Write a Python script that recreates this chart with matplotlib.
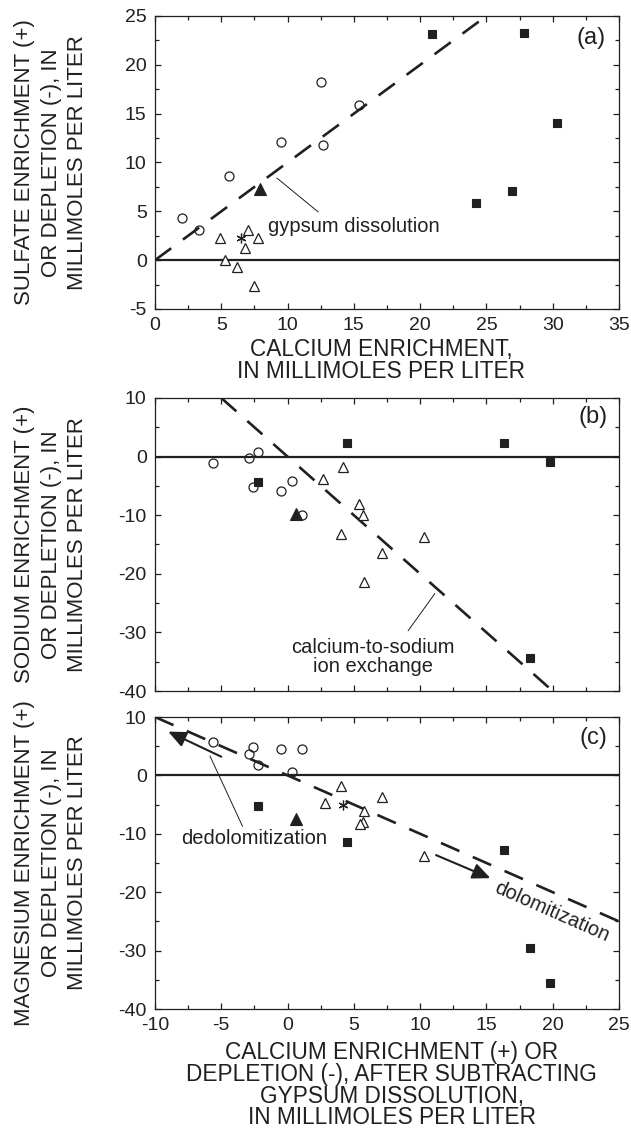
import numpy as np
import matplotlib
matplotlib.use('Agg')
import matplotlib.pyplot as plt
from matplotlib.ticker import MultipleLocator

plt.rcParams['font.family'] = ['Liberation Sans', 'DejaVu Sans']
plt.rcParams['lines.scale_dashes'] = False
plt.rcParams['axes.unicode_minus'] = False

INK = '#231f20'

# (a) sulfate vs calcium enrichment, mmol/L
a_circ_x = [2.0, 3.3, 5.6, 9.5, 12.5, 12.7, 15.4]
a_circ_y = [4.3, 3.1, 8.6, 12.1, 18.2, 11.8, 15.9]
a_sq_x = [20.9, 27.8, 30.3, 24.2, 26.9]
a_sq_y = [23.2, 23.3, 14.0, 5.9, 7.1]
a_tri_x = [4.9, 7.0, 7.8, 6.8, 5.3, 6.2, 7.5]
a_tri_y = [2.3, 3.1, 2.3, 1.2, 0.0, -0.7, -2.6]
a_ftri_x = [7.9]
a_ftri_y = [7.3]
a_star_x = [6.5]
a_star_y = [2.3]

# (b) sodium vs calcium (after gypsum correction)
b_circ_x = [-5.6, -2.9, -2.2, -2.6, -0.5, 0.3, 1.1]
b_circ_y = [-1.1, -0.3, 0.8, -5.2, -5.9, -4.2, -9.9]
b_sq_x = [-2.2, 4.5, 16.3, 19.8, 18.3]
b_sq_y = [-4.3, 2.4, 2.4, -1.0, -34.3]
b_tri_x = [4.2, 2.7, 5.4, 5.7, 4.0, 7.1, 5.8, 10.3]
b_tri_y = [-1.7, -3.8, -8.1, -10.0, -13.2, -16.5, -21.4, -13.7]
b_ftri_x = [0.6]
b_ftri_y = [-9.8]

# (c) magnesium vs calcium (after gypsum correction)
c_circ_x = [-5.6, -2.6, -2.9, -2.2, -0.5, 1.1, 0.3]
c_circ_y = [5.8, 4.8, 3.6, 1.7, 4.6, 4.6, 0.6]
c_sq_x = [-2.2, 4.5, 16.3, 18.3, 19.8]
c_sq_y = [-5.3, -11.4, -12.7, -29.5, -35.5]
c_tri_x = [4.0, 2.8, 5.8, 5.7, 5.5, 7.1, 10.3]
c_tri_y = [-1.8, -4.8, -6.1, -7.9, -8.4, -3.7, -13.8]
c_ftri_x = [0.6]
c_ftri_y = [-7.5]
c_star_x = [4.2]
c_star_y = [-5.1]

# reference reaction lines (x endpoints, slope)
gypsum_x = [0, 25]
gypsum_slope = 1.0
exchange_x = [-5, 20]
exchange_slope = -2.0
dolo_x = [-10, 25]
dolo_slope = -1.0

W, H = 631, 1131
fig = plt.figure(figsize=(W / 100, H / 100), dpi=100)


def px_axes(left, top, right, bottom):
    return fig.add_axes([left / W, 1 - bottom / H, (right - left) / W, (bottom - top) / H])


def style(ax, xlim, ylim, xmaj, xmin, ymaj, ymin, xlabels=True):
    ax.set_xlim(xlim)
    ax.set_ylim(ylim)
    ax.xaxis.set_major_locator(MultipleLocator(xmaj))
    ax.xaxis.set_minor_locator(MultipleLocator(xmin))
    ax.yaxis.set_major_locator(MultipleLocator(ymaj))
    ax.yaxis.set_minor_locator(MultipleLocator(ymin))
    ax.tick_params(which='both', direction='in', top=True, right=True,
                   width=0.9, color=INK, labelcolor=INK, labelsize=14, pad=6)
    ax.tick_params(which='major', length=4.5)
    ax.tick_params(which='minor', length=3)
    if not xlabels:
        ax.tick_params(axis='x', labelbottom=False)
    for s in ax.spines.values():
        s.set_linewidth(0.9)
        s.set_color(INK)
    ax.axhline(0, color=INK, lw=1.6, zorder=1)


def points(ax, cx, cy, sx, sy, tx, ty, fx, fy, stx=None, sty=None):
    ax.plot(sx, sy, 's', ms=5.8, mfc=INK, mec=INK, mew=0.8, zorder=3)
    ax.plot(cx, cy, 'o', ms=6.5, mfc='none', mec=INK, mew=0.9, zorder=4)
    ax.plot(tx, ty, '^', ms=7, mfc='white', mec=INK, mew=0.9, zorder=3)
    ax.plot(fx, fy, '^', ms=8, mfc=INK, mec=INK, mew=0.8, zorder=3)
    if stx is not None:
        ax.plot(stx, sty, marker=(6, 2, 0), ls='none', ms=7, mec=INK, mew=0.9, zorder=3)


def ref_line(ax, xs, slope):
    xs = np.array(xs, dtype=float)
    ax.plot(xs, slope * xs, color=INK, lw=1.9, ls=(0, (14.5, 10.5)), zorder=2)


xlab_kw = dict(fontsize=16.3, color=INK, linespacing=0.93)
ylab_kw = dict(fontsize=16, color=INK, linespacing=1.32)
note_kw = dict(fontsize=14.5, color=INK)
tag_kw = dict(fontsize=17, color=INK, ha='center', va='center')

# ---- (a)
ax1 = px_axes(155, 16, 619, 309)
style(ax1, (0, 35), (-5, 25), 5, 2.5, 5, 2.5)
ref_line(ax1, gypsum_x, gypsum_slope)
points(ax1, a_circ_x, a_circ_y, a_sq_x, a_sq_y, a_tri_x, a_tri_y,
       a_ftri_x, a_ftri_y, a_star_x, a_star_y)
ax1.plot([9.2, 12.3], [8.4, 4.95], color=INK, lw=0.7)
ax1.text(8.5, 3.4, 'gypsum dissolution', ha='left', va='center', **note_kw)
ax1.text(0.94, 0.925, '(a)', transform=ax1.transAxes, **tag_kw)
ax1.set_xlabel('CALCIUM ENRICHMENT,\nIN MILLIMOLES PER LITER', va='top', **xlab_kw)
ax1.xaxis.set_label_coords(0.487, -0.1)
ax1.set_ylabel('SULFATE ENRICHMENT (+)\nOR DEPLETION (-), IN\nMILLIMOLES PER LITER',
               va='center', **ylab_kw)
ax1.yaxis.set_label_coords(-0.224, 0.5)

# ---- (b)
ax2 = px_axes(155, 398, 619, 691)
style(ax2, (-10, 25), (-40, 10), 5, 2.5, 10, 5, xlabels=False)
ref_line(ax2, exchange_x, exchange_slope)
points(ax2, b_circ_x, b_circ_y, b_sq_x, b_sq_y, b_tri_x, b_tri_y, b_ftri_x, b_ftri_y)
ax2.plot([9.1, 11.1], [-29.7, -23.4], color=INK, lw=0.7)
ax2.text(6.46, -34.2, 'calcium-to-sodium\nion exchange', ha='center', va='center',
         multialignment='center', linespacing=0.95, **note_kw)
ax2.text(0.945, 0.935, '(b)', transform=ax2.transAxes, **tag_kw)
ax2.set_ylabel('SODIUM ENRICHMENT (+)\nOR DEPLETION (-), IN\nMILLIMOLES PER LITER',
               va='center', **ylab_kw)
ax2.yaxis.set_label_coords(-0.224, 0.5)

# ---- (c)
ax3 = px_axes(155, 717, 619, 1009)
style(ax3, (-10, 25), (-40, 10), 5, 2.5, 10, 5)
ref_line(ax3, dolo_x, dolo_slope)
points(ax3, c_circ_x, c_circ_y, c_sq_x, c_sq_y, c_tri_x, c_tri_y,
       c_ftri_x, c_ftri_y, c_star_x, c_star_y)
arrow = dict(arrowstyle='-|>,head_length=0.45,head_width=0.2', lw=1.5, color=INK,
             mutation_scale=24, shrinkA=0, shrinkB=0)
ax3.annotate('', xy=(-9.0, 7.5), xytext=(-5.0, 3.2), arrowprops=arrow)
ax3.annotate('', xy=(15.3, -17.6), xytext=(11.2, -13.65), arrowprops=arrow)
ax3.plot([-5.85, -3.4], [3.3, -8.7], color=INK, lw=0.7)
ax3.text(-8.0, -10.8, 'dedolomitization', ha='left', va='center', **note_kw)
ax3.text(19.9, -23.3, 'dolomitization', ha='center', va='center', rotation=-45,
         transform_rotates_text=True, rotation_mode='anchor', **note_kw)
ax3.text(0.944, 0.927, '(c)', transform=ax3.transAxes, **tag_kw)
ax3.set_xlabel('CALCIUM ENRICHMENT (+) OR\nDEPLETION (-), AFTER SUBTRACTING\n'
               'GYPSUM DISSOLUTION,\nIN MILLIMOLES PER LITER', va='top', **xlab_kw)
ax3.xaxis.set_label_coords(0.51, -0.11)
ax3.set_ylabel('MAGNESIUM ENRICHMENT (+)\nOR DEPLETION (-), IN\nMILLIMOLES PER LITER',
               va='center', **ylab_kw)
ax3.yaxis.set_label_coords(-0.224, 0.5)

fig.savefig('out.png', dpi=100)
